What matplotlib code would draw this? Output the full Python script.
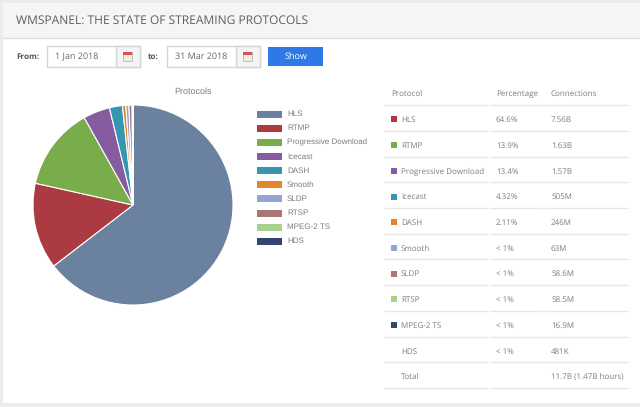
import matplotlib
matplotlib.use('Agg')
import matplotlib.pyplot as plt
from matplotlib.patches import Rectangle

# connections per protocol, in millions
protocols = ['HLS', 'RTMP', 'Progressive Download', 'Icecast', 'DASH', 'Smooth', 'SLDP', 'RTSP', 'MPEG-2 TS', 'HDS']
connections = [7560, 1630, 1570, 505, 246, 63, 58.6, 58.5, 16.9, 0.481]
colors = ['#6b81a0', '#ab3a42', '#79ac4b', '#855ca0', '#3795b2', '#e5852b', '#93a5d0', '#a97677', '#a9d18e', '#34466e']
percent_labels = ['64.6%', '13.9%', '13.4%', '4.32%', '2.11%', '< 1%', '< 1%', '< 1%', '< 1%', '< 1%']
connection_labels = ['7.56B', '1.63B', '1.57B', '505M', '246M', '63M', '58.6M', '58.5M', '16.9M', '481K']
total_label = '11.7B (1.47B hours)'

text_grey = '#7d7d7d'
line_grey = '#e6e6e6'

plt.rcParams['font.family'] = ['Open Sans', 'DejaVu Sans']
plt.rcParams['text.hinting'] = 'no_hinting'
plt.rcParams['text.hinting_factor'] = 1

fig = plt.figure(figsize=(6.4, 4.07), dpi=100, facecolor='white')

# whole figure as a pixel canvas for the page furniture
page = fig.add_axes([0, 0, 1, 1])
page.set_xlim(0, 640)
page.set_ylim(407, 0)
page.axis('off')

# panel frame and header
page.add_patch(Rectangle((0, 0), 640, 407, color='#ececec', lw=0))
page.add_patch(Rectangle((3, 3), 637, 400, color='white', lw=0))
page.add_patch(Rectangle((3, 3), 637, 35, color='#f5f5f5', lw=0))
page.plot([3, 640], [38, 38], color='#dddddd', lw=1)
page.text(16.5, 20.5, 'WMSPANEL: THE STATE OF STREAMING PROTOCOLS', fontsize=8.4, color='#5f5f5f', va='center')


# date filter row
def date_box(x, label):
    page.add_patch(Rectangle((x, 46), 93, 21, fc='white', ec='#d5d5d5', lw=1))
    page.add_patch(Rectangle((x + 69, 46), 24, 21, fc='#f4f4f4', ec='#d5d5d5', lw=1))
    page.text(x + 8, 56.5, label, fontsize=6.6, color='#666666', va='center')
    # small calendar icon
    page.add_patch(Rectangle((x + 76, 52), 9, 9, fc='#f2ece4', ec='#b9b0a8', lw=0.6))
    page.add_patch(Rectangle((x + 76, 52), 9, 3, fc='#d9534f', ec='none'))


page.text(16, 56.5, 'From:', fontsize=5.8, color='#555555', va='center', fontweight='bold')
date_box(47, '1 Jan 2018')
page.text(148, 56.5, 'to:', fontsize=5.8, color='#555555', va='center', fontweight='bold')
date_box(167, '31 Mar 2018')
page.add_patch(Rectangle((268, 47), 55, 19, color='#2f78e8', lw=0))
page.text(295.5, 56.5, 'Show', fontsize=6.6, color='white', va='center', ha='center')

# pie chart
pie_ax = fig.add_axes([33 / 640, 1 - 305 / 407, 200 / 640, 200 / 407])
pie_ax.pie(connections, colors=colors, startangle=90, counterclock=False, radius=1,
           wedgeprops={'edgecolor': 'white', 'linewidth': 0.8})
pie_ax.set_xlim(-1, 1)
pie_ax.set_ylim(-1, 1)
page.text(193, 91.5, 'Protocols', fontsize=6.6, color=text_grey, ha='center', va='center',
          family=['Liberation Sans', 'DejaVu Sans'])

# chart legend
for i, (name, c) in enumerate(zip(protocols, colors)):
    y = 114 + i * 14.15
    page.add_patch(Rectangle((257, y - 3.5), 25, 7, color=c, lw=0))
    page.text(287, y, name, fontsize=5.7, color=text_grey, va='center',
              family=['Liberation Sans', 'DejaVu Sans'])

# table
col_lines = [(384, 488), (490, 543), (544, 628)]
rule_ys = [105, 131, 157, 182, 208, 234, 259, 285, 311, 337, 362, 388]


def rule(y):
    for x0, x1 in col_lines:
        page.plot([x0, x1], [y, y], color=line_grey, lw=1, solid_capstyle='butt')


def row(y, proto, pct, conn):
    page.text(401, y + 0.5, proto, fontsize=5.9, color=text_grey, va='center')
    page.text(496, y + 0.5, pct, fontsize=5.9, color=text_grey, va='center')
    page.text(551, y + 0.5, conn, fontsize=5.9, color=text_grey, va='center')


page.text(391, 93.5, 'Protocol', fontsize=5.9, color=text_grey, va='center')
page.text(496, 93.5, 'Percentage', fontsize=5.9, color=text_grey, va='center')
page.text(551, 93.5, 'Connections', fontsize=5.9, color=text_grey, va='center')
for y in rule_ys:
    rule(y)

row_ys = [119, 145, 171, 196.5, 222, 248, 273.5, 299, 325, 351]
for i, y in enumerate(row_ys):
    row(y, protocols[i], percent_labels[i], connection_labels[i])
    # the table swatches run one colour ahead of the pie; the last row has none
    if i + 1 < len(colors):
        page.add_patch(Rectangle((390.5, y - 3), 6, 6, color=colors[i + 1], lw=0))
row(376.5, 'Total', '', total_label)

fig.savefig('out.png', dpi=100)
